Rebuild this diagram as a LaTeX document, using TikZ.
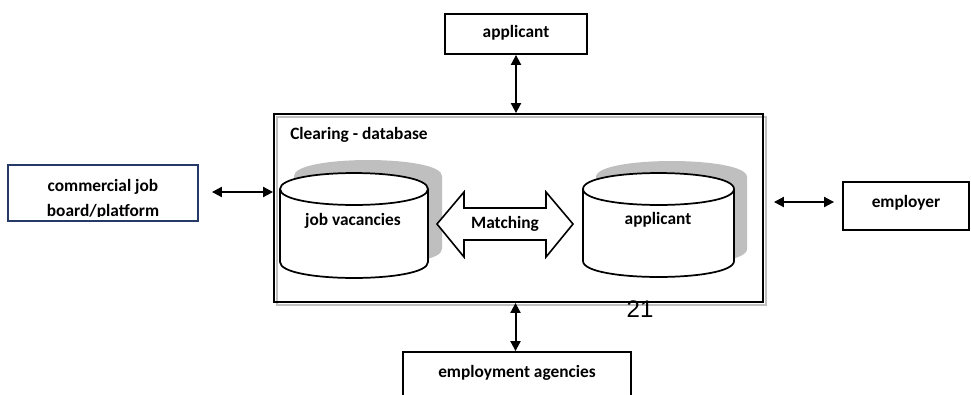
\documentclass[tikz,border=0pt]{standalone}
\usepackage{fontspec}
\setmainfont{Carlito}
\newfontfamily\pagefont{Liberation Sans}
\usetikzlibrary{arrows.meta}

\definecolor{framegray}{RGB}{192,192,192}
\definecolor{drumshade}{RGB}{191,191,191}
\definecolor{navyedge}{RGB}{38,58,104}

% database drum: #1 left x, #2 right x, #3 top ellipse centre y, #4 bottom ellipse centre y
\newcommand\drumbody[4]{(#1,#3) -- (#1,#4) .. controls (#1,#4+21.3) and (#2,#4+21.3) .. (#2,#4)
  -- (#2,#3) .. controls (#2,#3-21.3) and (#1,#3-21.3) .. (#1,#3) -- cycle}
\newcommand\drumlid[3]{(#1,#3) .. controls (#1,#3+21.3) and (#2,#3+21.3) .. (#2,#3)}

\begin{document}
\begin{tikzpicture}[x=0.75pt,y=-0.75pt,
  every node/.style={font=\fontsize{13pt}{18pt}\selectfont\bfseries, inner sep=0pt},
  boxnode/.style={draw, line width=1.4pt, fill=white},
  link/.style={line width=1.5pt, {Triangle[length=7.5pt,width=7.5pt]}-{Triangle[length=7.5pt,width=7.5pt]}},
  drumline/.style={draw, line width=1.3pt, fill=white},
  shade/.style={fill=drumshade}]
\useasboundingbox (0,0) rectangle (971,394);
\clip (0,0) rectangle (971,394);

% clearing frame with its grey offset copy
\draw[framegray, line width=1.3pt] (277,117) rectangle (766,305);
\node[draw, line width=1.4pt, minimum width=366.75pt, minimum height=141pt] (clearing) at (518.5,208) {};
\node[anchor=west] (cleartitle) at (290,135) {Clearing - database};

% outer parties
\node[boxnode, minimum width=106.5pt, minimum height=30pt] (topapp) at (516,34) {};
\node (topapptext) at (516,33) {applicant};

\node[boxnode, draw=navyedge, minimum width=142.5pt, minimum height=42pt] (board) at (103,193) {};
\begin{scope}
  \clip (9,166) rectangle (197,216);
  \node[align=center, font=\fontsize{13pt}{19pt}\selectfont\bfseries] (boardtext) at (103,199) {commercial job\\board/platform};
\end{scope}

\node[boxnode, minimum width=94.5pt, minimum height=36pt] (employer) at (906,206) {};
\node (employertext) at (906,203) {employer};

\node[boxnode, minimum width=171pt, minimum height=42pt] (agencies) at (517,380) {};
\node (agenciestext) at (517,373) {employment agencies};

% database drums with their shading
\fill[shade, xshift=10.5pt, yshift=9.75pt] \drumbody{280}{428}{189}{262};
\path[drumline] \drumbody{280}{428}{189}{262};
\draw[line width=1.3pt] \drumlid{280}{428}{189};
\node (jobs) at (353,221) {job vacancies};

\fill[shade, xshift=9.75pt, yshift=9pt] \drumbody{583}{734}{189}{261};
\path[drumline] \drumbody{583}{734}{189}{261};
\draw[line width=1.3pt] \drumlid{583}{734}{189};
\node (applicants) at (658,220) {applicant};

% matching arrow
\draw[line width=1.2pt, fill=white] (437,224) -- (464,192) -- (464,208) -- (546,208) -- (546,192)
  -- (573,224) -- (546,257) -- (546,240) -- (464,240) -- (464,257) -- cycle;
\node (matching) at (505,224) {Matching};

% connectors
\draw[link] (topapp.south) -- (topapp.south |- clearing.north);
\draw[link] ([xshift=9.75pt,yshift=0.75pt]board.east) -- ([yshift=0.75pt]board.east -| clearing.west);
\draw[link] ([xshift=7.5pt,yshift=3pt]clearing.east |- employer.west) -- ([xshift=-6pt,yshift=3pt]employer.west);
\draw[link] (agencies.north -| clearing.south) ++(-3,0) coordinate (agtop) (clearing.south -| agtop) -- (agtop);

% page number
\node[font=\pagefont\fontsize{18pt}{20pt}\selectfont] (pagenum) at (640,309) {21};
\end{tikzpicture}
\end{document}
